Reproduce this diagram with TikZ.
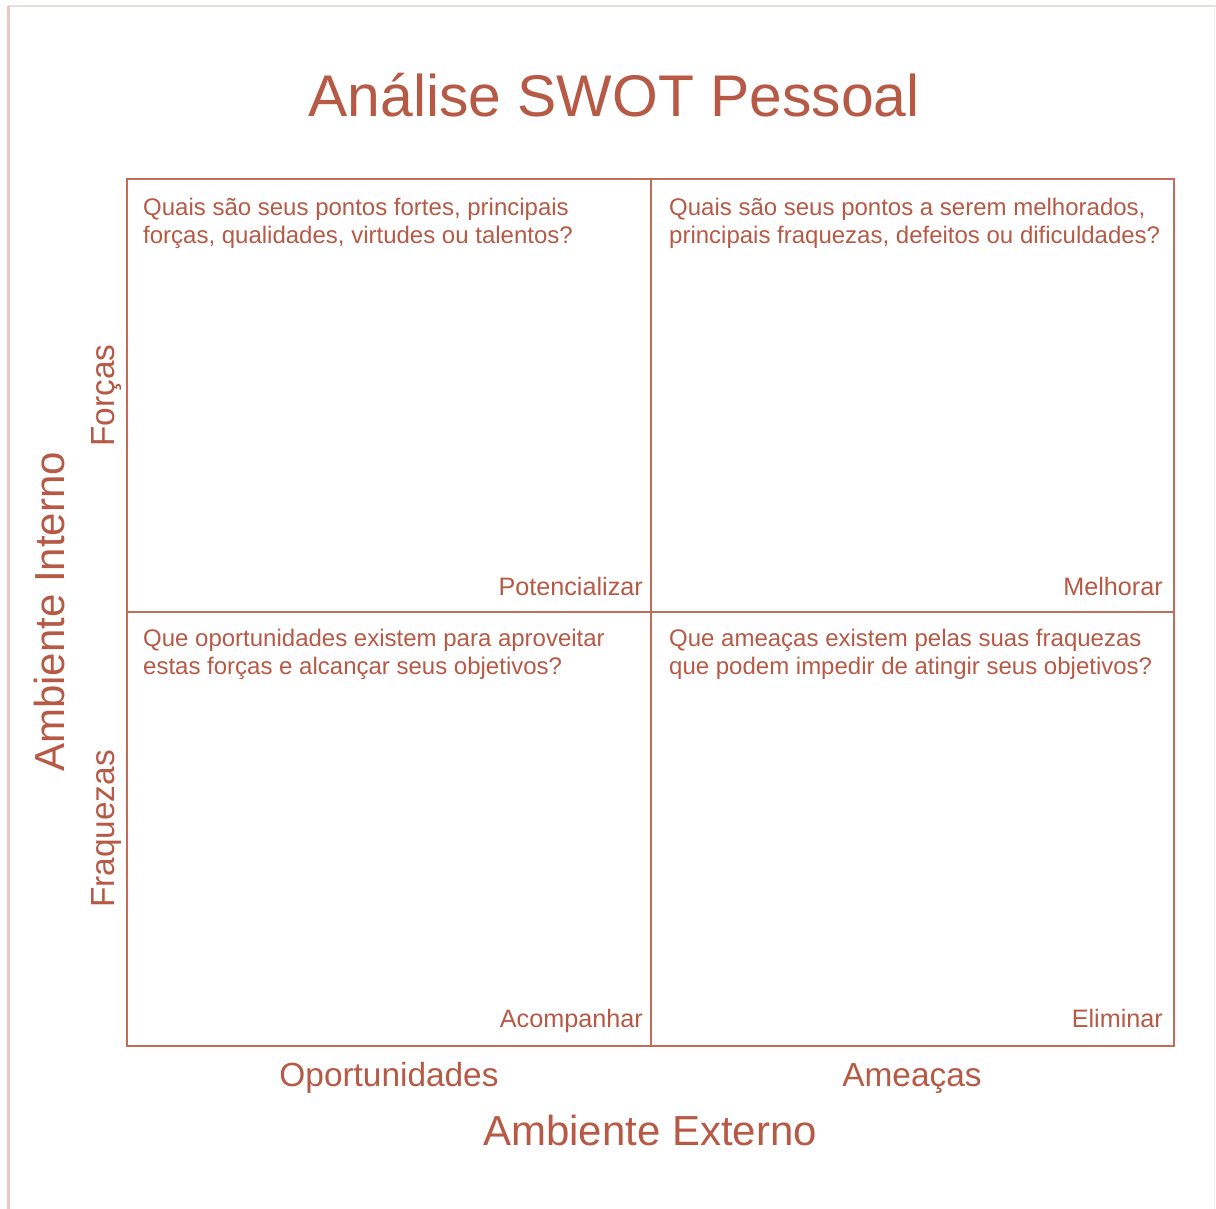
\documentclass[tikz,border=0pt]{standalone}
\usepackage{fontspec}
\setmainfont{Liberation Sans}
\definecolor{swtext}{HTML}{B65A46}
\definecolor{swline}{HTML}{C46C5A}
\definecolor{frameL}{HTML}{EDC6BE}
\definecolor{frameT}{HTML}{E6DFDA}
\begin{document}
\begin{tikzpicture}[x=1pt,y=-1pt,
  body/.style={inner sep=0pt, text=swtext, font=\fontsize{24}{28}\selectfont},
  corner/.style={inner sep=0pt, text=swtext, font=\fontsize{25.2}{29}\selectfont},
  axis/.style={inner sep=0pt, text=swtext, font=\fontsize{33.4}{38}\selectfont},
  big/.style={inner sep=0pt, text=swtext, font=\fontsize{42}{48}\selectfont},
  grid/.style={draw=swline, line width=1.6pt}]
\useasboundingbox (0,0) rectangle (1216,1209);
\fill[white] (0,0) rectangle (1216,1209);
% outer frame
\draw[frameT, line width=2pt] (8,6.5) -- (1216,6.5);
\draw[frameL, line width=2.5pt] (8.5,6) -- (8.5,1209);
\draw[frameT!60, line width=1pt] (1214,6) -- (1214,1209);
% title
\node[inner sep=0pt, text=swtext, font=\fontsize{58.8}{66}\selectfont, anchor=base] (title) at (614,117) {Análise SWOT Pessoal};
% grid
\coordinate (tl) at (127,179);
\coordinate (br) at (1174,1046);
\draw[grid] (tl) rectangle (br);
\coordinate (vt) at (651,179);
\coordinate (vb) at (651,1046);
\coordinate (hl) at (127,612);
\coordinate (hr) at (1174,612);
\draw[grid] (vt) -- (vb);
\draw[grid] (hl) -- (hr);
% quadrant texts
\node[body, anchor=base west] (s1) at (143,216) {Quais são seus pontos fortes, principais};
\node[body, anchor=base west] (s2) at (143,244) {forças, qualidades, virtudes ou talentos?};
\node[body, anchor=base west] (w1) at (669,216) {Quais são seus pontos a serem melhorados,};
\node[body, anchor=base west] (w2) at (669,244) {principais fraquezas, defeitos ou dificuldades?};
\node[body, anchor=base west] (o1) at (143,646) {Que oportunidades existem para aproveitar};
\node[body, anchor=base west] (o2) at (143,674) {estas forças e alcançar seus objetivos?};
\node[body, anchor=base west] (t1) at (669,646) {Que ameaças existem pelas suas fraquezas};
\node[body, anchor=base west] (t2) at (669,674) {que podem impedir de atingir seus objetivos?};
% corner labels
\node[corner, anchor=base east] (pot) at (643,595) {Potencializar};
\node[corner, anchor=base east] (mel) at (1163,595) {Melhorar};
\node[corner, anchor=base east] (aco) at (643,1027) {Acompanhar};
\node[corner, anchor=base east] (eli) at (1163,1027) {Eliminar};
% axis labels
\node[axis, anchor=base] (opo) at (389,1086) {Oportunidades};
\node[axis, anchor=base] (ame) at (912,1086) {Ameaças};
\node[big, anchor=base] (ext) at (650,1145) {Ambiente Externo};
\node[axis, anchor=base, rotate=90] (for) at (114,395.5) {Forças};
\node[axis, anchor=base, rotate=90] (fra) at (114,829) {Fraquezas};
\node[big, anchor=base, rotate=90] (int) at (64,612) {Ambiente Interno};
\end{tikzpicture}
\end{document}
